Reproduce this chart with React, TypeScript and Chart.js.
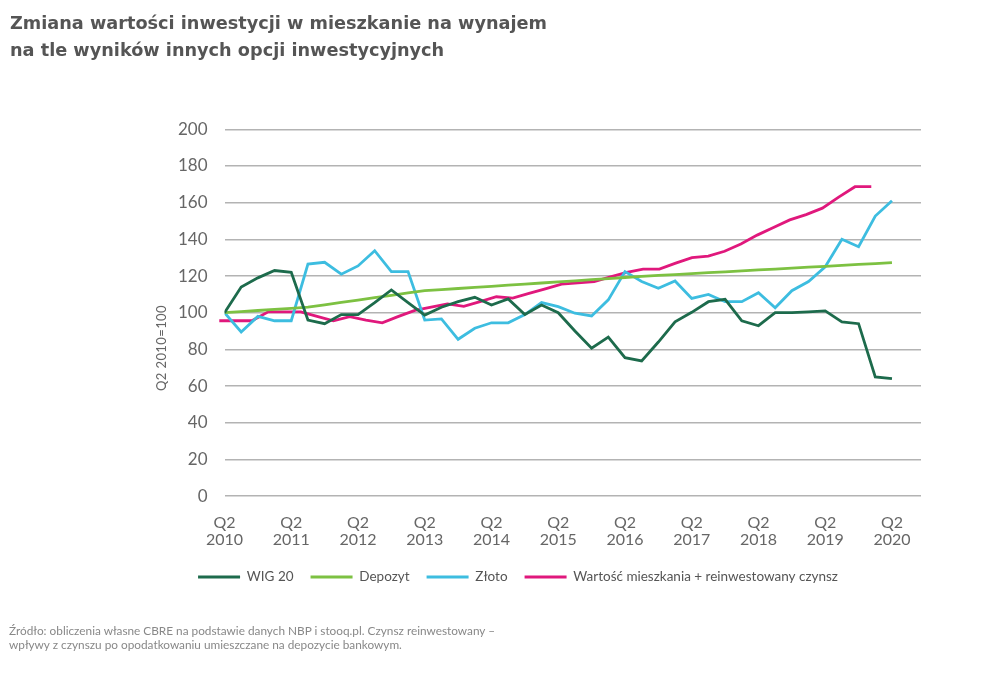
import React, { useEffect, useRef } from 'react';
import { Chart, registerables } from 'chart.js';

Chart.register(...registerables);

// Quarters Q2 2010 ... Q2 2020 (41 points), labelled every 4th quarter
const tickQuarter = 'Q2';
const tickYears = ['2010', '2011', '2012', '2013', '2014', '2015', '2016', '2017', '2018', '2019', '2020'];

const seriesNames = ['WIG 20', 'Depozyt', 'Złoto', 'Wartość mieszkania + reinwestowany czynsz'];

const wig20 = [
  100, 114, 119, 123, 122, 96, 94, 99, 99, 105.5, 112.4, 105.5, 98.7, 103, 106, 108.4, 104.2, 107.5, 99, 104.2,
  100, 90, 80.6, 86.7, 75.5, 73.7, 84, 95, 100.2, 106, 107.3, 95.6, 92.9, 100, 100, 100.5, 101, 95, 94, 65, 64,
];

const depozyt = [
  100, 100.6, 101.2, 101.8, 102.4, 103, 104.3, 105.6, 106.9, 108.2, 109.5, 110.8, 112, 112.6, 113.2, 113.8, 114.4,
  115, 115.6, 116.2, 116.8, 117.4, 118, 118.6, 119.2, 119.8, 120.3, 120.8, 121.3, 121.8, 122.3, 122.8, 123.3, 123.8,
  124.3, 124.8, 125.3, 125.8, 126.3, 126.8, 127.3,
];

const zloto = [
  100, 89.5, 98, 95.6, 95.6, 126.5, 127.5, 121, 125.5, 133.8, 122.4, 122.4, 96, 96.6, 85.5, 91.5, 94.5, 94.5, 99,
  105.5, 103.3, 99.7, 98.2, 107, 122.4, 117, 113.3, 117.3, 107.8, 110, 106, 106, 110.9, 102.7, 112, 117, 125, 140,
  136, 152.7, 161,
];

const mieszkanie = [
  95.6, 95.6, 95.6, 100.5, 100.5, 100.5, 98, 95.6, 97.8, 96, 94.5, 98, 101.3, 103, 104.8, 103.5, 106, 108.7, 108,
  110.5, 113, 115.6, 116.3, 117, 119.5, 122, 123.8, 123.8, 127, 130, 130.9, 133.5, 137.5, 142.3, 146.5, 150.6,
  153.5, 157, 163, 168.7, 168.7,
];

const colors = ['#1d6b4c', '#7dc142', '#3dbde0', '#e0187c'];

const FONT = 'Lato, "DejaVu Sans", sans-serif';

export default function App() {
  const canvasRef = useRef<HTMLCanvasElement | null>(null);

  useEffect(() => {
    if (!canvasRef.current) return;
    const toPoints = (arr: number[]) => arr.map((y, i) => ({ x: i, y }));
    const chart = new Chart(canvasRef.current, {
      type: 'line',
      data: {
        datasets: [
          { label: seriesNames[0], data: toPoints(wig20), borderColor: colors[0], backgroundColor: colors[0] },
          { label: seriesNames[1], data: toPoints(depozyt), borderColor: colors[1], backgroundColor: colors[1] },
          { label: seriesNames[2], data: toPoints(zloto), borderColor: colors[2], backgroundColor: colors[2] },
          {
            label: seriesNames[3],
            data: toPoints(mieszkanie),
            borderColor: colors[3],
            backgroundColor: colors[3],
            xAxisID: 'x2',
            clip: false,
          },
        ].map((d) => ({ ...d, borderWidth: 2.8, pointRadius: 0, tension: 0, fill: false })),
      },
      options: {
        responsive: true,
        maintainAspectRatio: false,
        animation: false,
        layout: { padding: { left: 115, right: 68, top: 129.3, bottom: 92.25 } },
        plugins: {
          legend: {
            position: 'bottom',
            align: 'center',
            labels: {
              usePointStyle: true,
              pointStyle: 'line',
              pointStyleWidth: 42,
              padding: 17,
              color: '#555555',
              font: { family: FONT, size: 13.5 },
            },
          },
          tooltip: { enabled: false },
        },
        scales: {
          x: {
            type: 'linear',
            min: 0,
            max: 41.74,
            grid: { display: false, drawTicks: false },
            border: { display: false },
            ticks: {
              stepSize: 4,
              includeBounds: false,
              autoSkip: false,
              maxRotation: 0,
              padding: 17.6,
              color: '#666666',
              font: { family: FONT, size: 16, lineHeight: 1.1 },
              callback: (v: any) => {
                const n = Number(v);
                if (n % 4 !== 0) return '';
                return [tickQuarter, tickYears[n / 4]];
              },
            },
            afterFit: (s: any) => {
              s.height = 57.15;
            },
          },
          x2: { type: 'linear', display: false, min: 0.32, max: 43.05 },
          y: {
            min: 0,
            max: 200,
            grid: { color: '#b3b3b3', lineWidth: 1.4, drawTicks: false },
            border: { display: false },
            ticks: {
              stepSize: 20,
              padding: 17,
              color: '#666666',
              font: { family: FONT, size: 17 },
            },
            afterFit: (s: any) => {
              s.width = 109.5;
            },
          },
        },
      },
    } as any);
    return () => chart.destroy();
  }, []);

  return (
    <div style={{ position: 'absolute', left: 0, top: 0, width: 989, height: 686, background: '#fff' }}>
      <div style={{ position: 'absolute', left: 0, top: 0, width: 989, height: 686 }}>
        <canvas ref={canvasRef} />
      </div>
      <div
        style={{
          position: 'absolute',
          left: 10,
          top: 10,
          fontFamily: '"DejaVu Sans", sans-serif',
          fontWeight: 'bold',
          fontSize: 17.7,
          lineHeight: '27px',
          color: '#555555',
          whiteSpace: 'nowrap',
        }}
      >
        Zmiana wartości inwestycji w mieszkanie na wynajem
        <br />
        na tle wyników innych opcji inwestycyjnych
      </div>
      <div
        style={{
          position: 'absolute',
          left: 161,
          top: 347.5,
          transform: 'translate(-50%, -50%) rotate(-90deg)',
          fontFamily: FONT,
          fontSize: 13,
          letterSpacing: '0.4px',
          color: '#666666',
          whiteSpace: 'nowrap',
        }}
      >
        Q2 2010=100
      </div>
      <div
        style={{
          position: 'absolute',
          left: 9,
          top: 624,
          fontFamily: FONT,
          fontSize: 11.8,
          lineHeight: '13.5px',
          color: '#888888',
          whiteSpace: 'nowrap',
        }}
      >
        Źródło: obliczenia własne CBRE na podstawie danych NBP i stooq.pl. Czynsz reinwestowany –
        <br />
        wpływy z czynszu po opodatkowaniu umieszczane na depozycie bankowym.
      </div>
    </div>
  );
}
